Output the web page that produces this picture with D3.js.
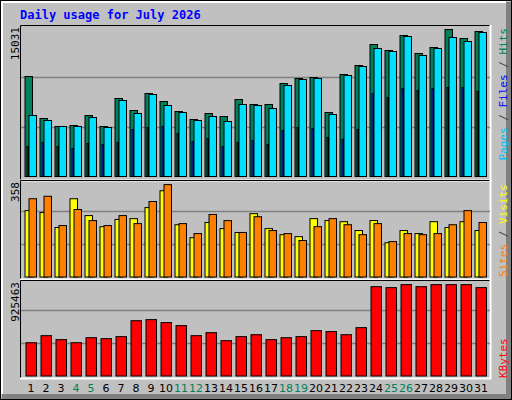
<!DOCTYPE html>
<html><head><meta charset="utf-8">
<script src="https://cdn.jsdelivr.net/npm/d3@7"></script>
<style>body{margin:0;background:#fff}text{font-family:"DejaVu Sans Mono",monospace}</style>
</head><body><svg id="c" width="512" height="400"></svg>
<script>
const days = d3.range(1, 32);
const weekend = [4, 5, 11, 12, 18, 19, 25, 26];
const hits = [10020,5812,5010,5110,6112,5010,7816,6613,8317,7515,6513,5711,6313,6012,7715,7214,7214,9319,9820,9920,6413,10220,11122,13226,12625,14128,12325,12926,14729,13828,14529];
const files = [6112,5611,5010,5010,5912,4910,7615,6313,8216,7114,6413,5611,6012,5511,7214,7114,6814,9118,9719,9820,6212,10120,11022,12826,12525,14028,12124,12826,13928,13527,14429];
const pages = [3006,3407,3006,2806,3307,3206,3407,4709,4910,5010,4309,3507,3808,3006,3407,3607,3206,4609,4910,4810,3908,3707,4709,8317,7916,8818,8617,8818,8918,8918,8517];
const sites = [240,233,179,283,222,182,208,211,251,312,189,142,197,175,161,229,175,153,146,211,204,200,168,204,124,168,157,200,179,200,168];
const visits = [283,292,186,244,204,186,222,193,273,334,193,157,226,204,161,218,168,157,132,182,211,189,153,193,128,157,153,157,189,240,197];
const kbytes = [311000,377000,340000,311000,358000,349000,368000,517000,527000,499000,471000,377000,405000,330000,368000,386000,340000,358000,368000,424000,415000,386000,452000,835000,826000,854000,835000,854000,854000,854000,826000];
const maxHits = 15031, maxVisits = 358, maxKB = 925463;

const svg = d3.select('#c');
const C = {hits:'#00805c', files:'#00e0ff', pages:'#0040ff', sites:'#ffff00', visits:'#ff8000', kb:'#ff0000', grid:'#808080'};

// frame
svg.append('rect').attr('width',512).attr('height',400).attr('fill','#c0c0c0');
svg.append('rect').attr('x',506).attr('y',2).attr('width',6).attr('height',398).attr('fill','#808080');
svg.append('rect').attr('x',2).attr('y',394).attr('width',510).attr('height',6).attr('fill','#808080');
svg.append('path').attr('d','M2,394V2H506').attr('fill','none').attr('stroke','#fff').attr('stroke-width',2);
svg.append('rect').attr('x',0.5).attr('y',0.5).attr('width',511).attr('height',399).attr('fill','none').attr('stroke','#000');

svg.append('text').attr('x',20).attr('y',19).attr('fill','#0000ff')
  .style('font-weight','bold').style('font-size','12px').text('Daily usage for July 2026');

const x = d3.scaleBand().domain(days).range([24.5, 489.5]).paddingInner(0);

function panel(top, bottom, base, full) {
  svg.append('path').attr('d',`M20.5,${bottom}V${top}.5H490.5V${bottom}`).attr('fill','none').attr('stroke','#000');
  svg.append('path').attr('d',`M20,${bottom}.5H490.5V${top}`).attr('fill','none').attr('stroke','#fff').attr('stroke-width',2);
  const y = d3.scaleLinear().domain([0,1]).range([base, base - full]);
  [1/3, 2/3].forEach(f => svg.append('line').attr('x1',21).attr('x2',490)
    .attr('y1',Math.round(y(f))+0.5).attr('y2',Math.round(y(f))+0.5).attr('stroke',C.grid).attr('stroke-width',1.5));
  return y;
}

function bars(vals, max, y, dx, w, fill) {
  svg.append('g').selectAll('rect').data(vals).enter().append('rect')
    .attr('x',(d,i)=>x(days[i])+dx).attr('width',w)
    .attr('y',d=>y(d/max)).attr('height',d=>y(0)-y(d/max))
    .attr('fill',fill).attr('stroke','#000').attr('stroke-width',1);
}

// Hits / Files / Pages
const y1 = panel(25, 180, 176.5, 150);
bars(hits, maxHits, y1, 0.5, 7.5, C.hits);
bars(files, maxHits, y1, 4.5, 7.5, C.files);
bars(pages, maxHits, y1, 2.5, 1.5, C.pages);

// Sites / Visits
const y2 = panel(180, 279, 277, 99);
bars(sites, maxVisits, y2, 0.5, 7.5, C.sites);
bars(visits, maxVisits, y2, 4.5, 7.5, C.visits);

// KBytes
const y3 = panel(280, 378, 376, 99);
bars(kbytes, maxKB, y3, 1.5, 10.5, C.kb);

// y labels
function ylab(txt, yy) {
  svg.append('text').attr('transform',`translate(19,${yy}) rotate(-90)`).attr('text-anchor','end')
    .style('font-size','11px').attr('fill','#000').text(txt);
}
ylab(maxHits, 27); ylab(maxVisits, 182); ylab(maxKB, 282);

// right legends
function rlab(parts, yy, anchor) {
  const t = svg.append('text').attr('transform',`translate(507,${yy}) rotate(-90)`).attr('text-anchor',anchor)
    .style('font-size','11px');
  parts.forEach(p => t.append('tspan').attr('fill',p[1]).text(p[0]));
}
rlab([['Pages','#00c0ff'],[' / ','#404040'],['Files','#0000ff'],[' / ','#404040'],['Hits',C.hits]], 28, 'end');
rlab([['Sites',C.visits],[' / ','#404040'],['Visits',C.sites]], 277, 'start');
rlab([['KBytes',C.kb]], 378, 'start');

// x labels
svg.append('g').selectAll('text').data(days).enter().append('text')
  .attr('x',d=>x(d)+6.5).attr('y',392).attr('text-anchor','middle').style('font-size','11px')
  .style('font-family','"DejaVu Sans",sans-serif')
  .attr('fill',d=>weekend.includes(d)?'#00805c':'#000').text(d=>d);
</script></body></html>
